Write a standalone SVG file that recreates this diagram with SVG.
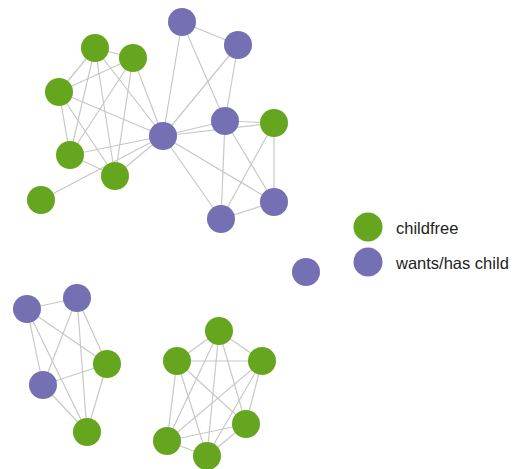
<svg xmlns="http://www.w3.org/2000/svg" width="516" height="469" viewBox="0 0 516 469">
<style>
.e{stroke:#c8c8c8;stroke-width:1.2;fill:none}
.g{fill:#66a61e}
.p{fill:#7570b3}
.t{font-family:"Liberation Sans",Arial,sans-serif;font-size:16.5px;fill:#222}
</style>
<rect width="516" height="469" fill="#fff"/>
<g id="edges" class="e">
<line x1="182" y1="22" x2="238" y2="45"/>
<line x1="182" y1="22" x2="163" y2="136"/>
<line x1="182" y1="22" x2="225" y2="121"/>
<line x1="238" y1="45" x2="163" y2="136"/>
<line x1="238" y1="45" x2="225" y2="121"/>
<line x1="95" y1="48" x2="133" y2="58"/>
<line x1="95" y1="48" x2="59" y2="92"/>
<line x1="95" y1="48" x2="70" y2="155"/>
<line x1="95" y1="48" x2="115" y2="176"/>
<line x1="95" y1="48" x2="163" y2="136"/>
<line x1="133" y1="58" x2="59" y2="92"/>
<line x1="133" y1="58" x2="70" y2="155"/>
<line x1="133" y1="58" x2="115" y2="176"/>
<line x1="133" y1="58" x2="163" y2="136"/>
<line x1="59" y1="92" x2="163" y2="136"/>
<line x1="59" y1="92" x2="70" y2="155"/>
<line x1="59" y1="92" x2="115" y2="176"/>
<line x1="70" y1="155" x2="163" y2="136"/>
<line x1="70" y1="155" x2="115" y2="176"/>
<line x1="115" y1="176" x2="163" y2="136"/>
<line x1="41" y1="200" x2="163" y2="136"/>
<line x1="163" y1="136" x2="225" y2="121"/>
<line x1="163" y1="136" x2="274" y2="123"/>
<line x1="163" y1="136" x2="221" y2="219"/>
<line x1="163" y1="136" x2="274" y2="202"/>
<line x1="225" y1="121" x2="274" y2="123"/>
<line x1="225" y1="121" x2="221" y2="219"/>
<line x1="225" y1="121" x2="274" y2="202"/>
<line x1="274" y1="123" x2="221" y2="219"/>
<line x1="274" y1="123" x2="274" y2="202"/>
<line x1="221" y1="219" x2="274" y2="202"/>
<line x1="27" y1="309" x2="77" y2="298"/>
<line x1="27" y1="309" x2="107" y2="364"/>
<line x1="27" y1="309" x2="43" y2="385"/>
<line x1="27" y1="309" x2="87" y2="432"/>
<line x1="77" y1="298" x2="107" y2="364"/>
<line x1="77" y1="298" x2="43" y2="385"/>
<line x1="77" y1="298" x2="87" y2="432"/>
<line x1="107" y1="364" x2="43" y2="385"/>
<line x1="107" y1="364" x2="87" y2="432"/>
<line x1="43" y1="385" x2="87" y2="432"/>
<line x1="219" y1="331" x2="177" y2="361"/>
<line x1="219" y1="331" x2="262" y2="361"/>
<line x1="219" y1="331" x2="246" y2="424"/>
<line x1="219" y1="331" x2="167" y2="441"/>
<line x1="219" y1="331" x2="207" y2="456"/>
<line x1="177" y1="361" x2="262" y2="361"/>
<line x1="177" y1="361" x2="246" y2="424"/>
<line x1="177" y1="361" x2="167" y2="441"/>
<line x1="177" y1="361" x2="207" y2="456"/>
<line x1="262" y1="361" x2="246" y2="424"/>
<line x1="262" y1="361" x2="167" y2="441"/>
<line x1="262" y1="361" x2="207" y2="456"/>
<line x1="246" y1="424" x2="167" y2="441"/>
<line x1="246" y1="424" x2="207" y2="456"/>
<line x1="167" y1="441" x2="207" y2="456"/>
</g>
<g id="n_p1"><circle class="p" cx="182" cy="22" r="14"/></g>
<g id="n_p2"><circle class="p" cx="238" cy="45" r="14"/></g>
<g id="n_g1"><circle class="g" cx="95" cy="48" r="14"/></g>
<g id="n_g2"><circle class="g" cx="133" cy="58" r="14"/></g>
<g id="n_g3"><circle class="g" cx="59" cy="92" r="14"/></g>
<g id="n_pc"><circle class="p" cx="163" cy="136" r="14"/></g>
<g id="n_p3"><circle class="p" cx="225" cy="121" r="14"/></g>
<g id="n_g4"><circle class="g" cx="274" cy="123" r="14"/></g>
<g id="n_g5"><circle class="g" cx="70" cy="155" r="14"/></g>
<g id="n_g6"><circle class="g" cx="115" cy="176" r="14"/></g>
<g id="n_g7"><circle class="g" cx="41" cy="200" r="14"/></g>
<g id="n_p4"><circle class="p" cx="221" cy="219" r="14"/></g>
<g id="n_p5"><circle class="p" cx="274" cy="202" r="14"/></g>
<g id="n_iso"><circle class="p" cx="306" cy="272" r="14"/></g>
<g id="n_q1"><circle class="p" cx="27" cy="309" r="14"/></g>
<g id="n_q2"><circle class="p" cx="77" cy="298" r="14"/></g>
<g id="n_q3"><circle class="g" cx="107" cy="364" r="14"/></g>
<g id="n_q4"><circle class="p" cx="43" cy="385" r="14"/></g>
<g id="n_q5"><circle class="g" cx="87" cy="432" r="14"/></g>
<g id="n_r1"><circle class="g" cx="219" cy="331" r="14"/></g>
<g id="n_r2"><circle class="g" cx="177" cy="361" r="14"/></g>
<g id="n_r3"><circle class="g" cx="262" cy="361" r="14"/></g>
<g id="n_r4"><circle class="g" cx="246" cy="424" r="14"/></g>
<g id="n_r5"><circle class="g" cx="167" cy="441" r="14"/></g>
<g id="n_r6"><circle class="g" cx="207" cy="456" r="14"/></g>
<g id="legend">
<circle class="g" cx="368" cy="227" r="14.5"/>
<text class="t" x="396" y="234">childfree</text>
<circle class="p" cx="368" cy="262" r="14.5"/>
<text class="t" x="396" y="269">wants/has child</text>
</g>
</svg>
